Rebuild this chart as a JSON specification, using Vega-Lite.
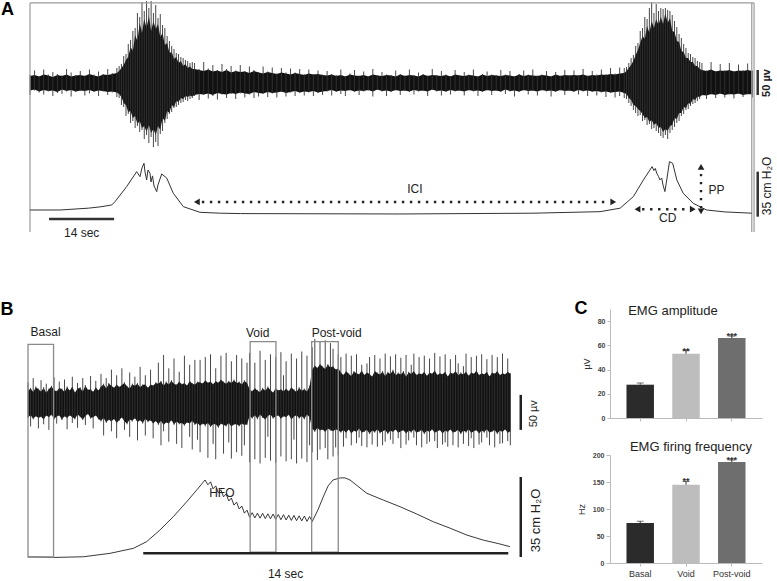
{
"$schema":"https://vega.github.io/schema/vega-lite/v6.json",
"padding":0,
"background":"white",
"bounds":"flush",
"spacing":0,
"config":{"view":{"stroke":null},"font":"Liberation Sans","title":{"font":"Liberation Sans","fontWeight":"normal","color":"#222","fontSize":13},
 "axisY":{"grid":false,"tickSize":3,"labelPadding":2,"labelFontSize":7,"labelFontWeight":"bold","labelColor":"#444","titleFontSize":9,"titleFontWeight":"normal","titleColor":"#333","titlePadding":6,"domainColor":"#bbbbbb","tickColor":"#bbbbbb","labelOverlap":false},
 "axisX":{"tickSize":3,"labelPadding":3,"labelFontSize":9,"labelColor":"#333","domainColor":"#bbbbbb","tickColor":"#bbbbbb","labelAngle":0}},
"datasets":{
"aEmg":[
{"t":0,"b":14,"a":-15,"d":16,"c":-24},{"t":1,"b":16,"a":-13,"d":25,"c":-15},{"t":2,"b":13,"a":-17,"d":14,"c":-19},{"t":3,"b":17,"a":-14,"d":27,"c":-23},{"t":4,"b":15,"a":-16,"d":17,"c":-17},{"t":5,"b":12,"a":-15,"d":22,"c":-26},{"t":6,"b":16,"a":-18,"d":18,"c":-20},{"t":7,"b":14,"a":-13,"d":15,"c":-22},{"t":8,"b":17,"a":-16,"d":28,"c":-17},{"t":9,"b":13,"a":-14,"d":21,"c":-27},
{"t":10,"b":15,"a":-17,"d":16,"c":-18},{"t":11,"b":16,"a":-15,"d":24,"c":-16},{"t":12,"b":14,"a":-16,"d":15,"c":-25},{"t":13,"b":18,"a":-14,"d":27,"c":-21},{"t":14,"b":15,"a":-17,"d":17,"c":-18},{"t":15,"b":13,"a":-15,"d":23,"c":-26},{"t":16,"b":17,"a":-16,"d":18,"c":-17},{"t":17,"b":16,"a":-18,"d":28,"c":-24},{"t":18,"b":18,"a":-17,"d":20,"c":-19},
{"t":19,"b":20,"a":-19,"d":30,"c":-28},{"t":19.5,"b":24,"a":-22,"d":34,"c":-30},{"t":20,"b":30,"a":-28,"d":38,"c":-44},{"t":20.5,"b":36,"a":-40,"d":54,"c":-48},{"t":21,"b":46,"a":-44,"d":58,"c":-66},{"t":21.5,"b":52,"a":-58,"d":78,"c":-62},{"t":22,"b":72,"a":-56,"d":86,"c":-80},{"t":22.5,"b":64,"a":-70,"d":104,"c":-76},{"t":23,"b":96,"a":-66,"d":110,"c":-90},{"t":23.5,"b":84,"a":-82,"d":140,"c":-86},
{"t":24,"b":120,"a":-76,"d":132,"c":-98},{"t":24.5,"b":100,"a":-90,"d":162,"c":-94},{"t":25,"b":128,"a":-86,"d":144,"c":-112},{"t":25.5,"b":110,"a":-98,"d":164,"c":-104},{"t":26,"b":134,"a":-84,"d":150,"c":-120},{"t":26.5,"b":104,"a":-100,"d":164,"c":-108},{"t":27,"b":124,"a":-92,"d":140,"c":-128},{"t":27.5,"b":108,"a":-104,"d":156,"c":-118},{"t":28,"b":118,"a":-86,"d":130,"c":-126},{"t":28.5,"b":92,"a":-94,"d":138,"c":-102},
{"t":29,"b":100,"a":-70,"d":116,"c":-96},{"t":29.5,"b":76,"a":-76,"d":110,"c":-80},{"t":30,"b":80,"a":-56,"d":94,"c":-72},{"t":30.5,"b":60,"a":-60,"d":84,"c":-62},{"t":31,"b":62,"a":-44,"d":74,"c":-58},{"t":31.5,"b":48,"a":-48,"d":68,"c":-50},{"t":32,"b":52,"a":-36,"d":60,"c":-48},{"t":32.5,"b":40,"a":-38,"d":58,"c":-44},{"t":33,"b":44,"a":-30,"d":52,"c":-40},{"t":33.5,"b":34,"a":-32,"d":50,"c":-38},
{"t":34,"b":38,"a":-26,"d":46,"c":-34},{"t":34.5,"b":30,"a":-28,"d":44,"c":-36},{"t":35,"b":33,"a":-25,"d":40,"c":-32},{"t":35.5,"b":28,"a":-27,"d":42,"c":-30},
{"t":36,"b":28,"a":-24,"d":40,"c":-26},{"t":37,"b":26,"a":-22,"d":28,"c":-34},{"t":38,"b":24,"a":-23,"d":42,"c":-24},{"t":39,"b":27,"a":-21,"d":29,"c":-31},{"t":40,"b":23,"a":-24,"d":36,"c":-26},{"t":41,"b":25,"a":-20,"d":26,"c":-33},{"t":42,"b":22,"a":-22,"d":38,"c":-23},{"t":43,"b":26,"a":-23,"d":28,"c":-30},{"t":44,"b":21,"a":-20,"d":34,"c":-22},{"t":45,"b":24,"a":-22,"d":25,"c":-32},
{"t":46,"b":22,"a":-19,"d":36,"c":-21},{"t":47,"b":23,"a":-21,"d":24,"c":-29},{"t":48,"b":20,"a":-22,"d":33,"c":-23},{"t":49,"b":24,"a":-18,"d":26,"c":-30},{"t":50,"b":21,"a":-20,"d":22,"c":-27},{"t":51,"b":19,"a":-21,"d":33,"c":-22},{"t":52,"b":22,"a":-18,"d":23,"c":-28},{"t":53,"b":20,"a":-20,"d":31,"c":-21},{"t":54,"b":18,"a":-19,"d":19,"c":-29},{"t":55,"b":21,"a":-17,"d":30,"c":-18},
{"t":56,"b":19,"a":-20,"d":21,"c":-27},{"t":57,"b":17,"a":-18,"d":29,"c":-19},{"t":58,"b":20,"a":-16,"d":21,"c":-26},{"t":59,"b":18,"a":-19,"d":28,"c":-20},{"t":60,"b":16,"a":-17,"d":18,"c":-25},{"t":61,"b":19,"a":-18,"d":27,"c":-19},{"t":62,"b":17,"a":-16,"d":18,"c":-26},{"t":63,"b":18,"a":-19,"d":25,"c":-20},{"t":64,"b":16,"a":-17,"d":17,"c":-24},
{"t":65,"b":15,"a":-16,"d":24,"c":-17},{"t":66,"b":17,"a":-14,"d":18,"c":-25},{"t":67,"b":14,"a":-17,"d":16,"c":-18},{"t":68,"b":16,"a":-15,"d":27,"c":-22},{"t":69,"b":13,"a":-16,"d":14,"c":-26},{"t":70,"b":17,"a":-14,"d":19,"c":-15},{"t":71,"b":15,"a":-17,"d":26,"c":-18},{"t":72,"b":14,"a":-15,"d":15,"c":-24},{"t":73,"b":16,"a":-16,"d":23,"c":-17},{"t":74,"b":13,"a":-14,"d":14,"c":-15},
{"t":75,"b":17,"a":-17,"d":28,"c":-27},{"t":76,"b":15,"a":-13,"d":16,"c":-14},{"t":77,"b":14,"a":-16,"d":22,"c":-17},{"t":78,"b":16,"a":-15,"d":17,"c":-26},{"t":79,"b":15,"a":-17,"d":16,"c":-18},{"t":80,"b":13,"a":-14,"d":25,"c":-15},{"t":81,"b":17,"a":-16,"d":18,"c":-24},{"t":82,"b":14,"a":-15,"d":15,"c":-16},{"t":83,"b":16,"a":-17,"d":27,"c":-18},{"t":84,"b":15,"a":-14,"d":16,"c":-23},
{"t":85,"b":13,"a":-16,"d":21,"c":-17},{"t":86,"b":17,"a":-15,"d":18,"c":-16},{"t":87,"b":14,"a":-17,"d":15,"c":-26},{"t":88,"b":16,"a":-13,"d":28,"c":-14},{"t":89,"b":15,"a":-16,"d":16,"c":-17},{"t":90,"b":14,"a":-15,"d":24,"c":-25},{"t":91,"b":16,"a":-17,"d":17,"c":-18},{"t":92,"b":13,"a":-14,"d":14,"c":-23},{"t":93,"b":17,"a":-16,"d":26,"c":-17},{"t":94,"b":15,"a":-15,"d":16,"c":-16},
{"t":95,"b":14,"a":-17,"d":22,"c":-25},{"t":96,"b":16,"a":-14,"d":17,"c":-15},{"t":97,"b":15,"a":-16,"d":27,"c":-17},{"t":98,"b":13,"a":-15,"d":14,"c":-26},{"t":99,"b":17,"a":-17,"d":18,"c":-18},{"t":100,"b":14,"a":-14,"d":23,"c":-15},{"t":101,"b":16,"a":-16,"d":17,"c":-24},{"t":102,"b":15,"a":-15,"d":16,"c":-16},{"t":103,"b":14,"a":-17,"d":26,"c":-18},{"t":104,"b":16,"a":-13,"d":17,"c":-22},
{"t":105,"b":15,"a":-16,"d":24,"c":-17},{"t":106,"b":13,"a":-15,"d":14,"c":-27},{"t":107,"b":17,"a":-17,"d":18,"c":-18},{"t":108,"b":14,"a":-14,"d":25,"c":-15},{"t":109,"b":16,"a":-16,"d":17,"c":-23},{"t":110,"b":15,"a":-15,"d":27,"c":-16},{"t":111,"b":14,"a":-17,"d":15,"c":-25},{"t":112,"b":16,"a":-14,"d":17,"c":-15},{"t":113,"b":15,"a":-16,"d":24,"c":-17},{"t":114,"b":13,"a":-15,"d":14,"c":-27},
{"t":115,"b":17,"a":-17,"d":22,"c":-18},{"t":116,"b":14,"a":-14,"d":15,"c":-15},{"t":117,"b":16,"a":-16,"d":26,"c":-24},{"t":118,"b":15,"a":-15,"d":16,"c":-16},{"t":119,"b":16,"a":-17,"d":25,"c":-18},{"t":120,"b":15,"a":-14,"d":16,"c":-23},{"t":121,"b":17,"a":-16,"d":28,"c":-17},{"t":122,"b":14,"a":-15,"d":15,"c":-26},{"t":123,"b":16,"a":-17,"d":24,"c":-18},{"t":124,"b":15,"a":-16,"d":17,"c":-25},
{"t":125,"b":17,"a":-18,"d":27,"c":-19},{"t":126,"b":16,"a":-17,"d":18,"c":-28},{"t":127,"b":18,"a":-19,"d":30,"c":-20},{"t":128,"b":17,"a":-18,"d":19,"c":-29},{"t":129,"b":19,"a":-17,"d":31,"c":-26},
{"t":130,"b":20,"a":-20,"d":30,"c":-30},{"t":130.5,"b":24,"a":-22,"d":32,"c":-32},{"t":131,"b":30,"a":-30,"d":40,"c":-40},{"t":131.5,"b":36,"a":-34,"d":50,"c":-46},{"t":132,"b":44,"a":-44,"d":56,"c":-54},{"t":132.5,"b":56,"a":-46,"d":74,"c":-60},{"t":133,"b":66,"a":-52,"d":80,"c":-66},{"t":133.5,"b":80,"a":-56,"d":104,"c":-64},{"t":134,"b":94,"a":-62,"d":110,"c":-76},{"t":134.5,"b":88,"a":-70,"d":132,"c":-74},
{"t":135,"b":114,"a":-68,"d":128,"c":-84},{"t":135.5,"b":100,"a":-78,"d":150,"c":-82},{"t":136,"b":124,"a":-74,"d":162,"c":-92},{"t":136.5,"b":110,"a":-84,"d":140,"c":-90},{"t":137,"b":128,"a":-80,"d":158,"c":-96},{"t":137.5,"b":116,"a":-90,"d":144,"c":-100},{"t":138,"b":132,"a":-88,"d":150,"c":-106},{"t":138.5,"b":118,"a":-98,"d":148,"c":-110},{"t":139,"b":140,"a":-92,"d":150,"c":-104},{"t":139.5,"b":120,"a":-96,"d":146,"c":-112},
{"t":140,"b":130,"a":-86,"d":144,"c":-100},{"t":140.5,"b":104,"a":-84,"d":136,"c":-94},{"t":141,"b":102,"a":-70,"d":124,"c":-88},{"t":141.5,"b":84,"a":-72,"d":112,"c":-80},{"t":142,"b":82,"a":-60,"d":98,"c":-76},{"t":142.5,"b":64,"a":-60,"d":90,"c":-66},{"t":143,"b":62,"a":-48,"d":78,"c":-62},{"t":143.5,"b":50,"a":-50,"d":70,"c":-54},{"t":144,"b":50,"a":-40,"d":60,"c":-52},{"t":144.5,"b":42,"a":-42,"d":58,"c":-46},
{"t":145,"b":42,"a":-32,"d":52,"c":-42},{"t":145.5,"b":34,"a":-34,"d":50,"c":-40},{"t":146,"b":34,"a":-27,"d":44,"c":-36},{"t":146.5,"b":28,"a":-28,"d":42,"c":-32},
{"t":147,"b":26,"a":-24,"d":40,"c":-25},{"t":148,"b":24,"a":-25,"d":25,"c":-32},{"t":149,"b":27,"a":-22,"d":42,"c":-23},{"t":150,"b":23,"a":-24,"d":24,"c":-30},{"t":151,"b":25,"a":-21,"d":38,"c":-22},{"t":152,"b":24,"a":-24,"d":26,"c":-29},{"t":153,"b":26,"a":-22,"d":40,"c":-23},{"t":154,"b":23,"a":-23,"d":24,"c":-31},{"t":155,"b":25,"a":-21,"d":37,"c":-22},{"t":156,"b":24,"a":-24,"d":26,"c":-28},{"t":157,"b":26,"a":-22,"d":39,"c":-23},{"t":158,"b":24,"a":-23,"d":25,"c":-29}
],
"aP":[
{"t":0,"p":2.3},{"t":6.6,"p":2.3},{"t":12.75,"p":3.7},{"t":15.3,"p":4.7},{"t":17.87,"p":6.2},{"t":18.6,"p":8.8},{"t":21.15,"p":20.5},{"t":23.34,"p":32.1},{"t":24.06,"p":28.2},{"t":24.5,"p":35},{"t":24.94,"p":38.6},{"t":25.16,"p":31.9},{"t":25.53,"p":25.7},{"t":25.81,"p":33.4},{"t":26.25,"p":30.9},{"t":26.47,"p":24.1},{"t":26.8,"p":28.8},{"t":27.13,"p":21},{"t":27.72,"p":16.6},{"t":28,"p":21.8},{"t":28.81,"p":30.3},{"t":29.9,"p":27.2},{"t":31.35,"p":15.3},{"t":33.54,"p":4.9},{"t":37.19,"p":0.5},{"t":41.6,"p":-0.2},{"t":46,"p":-0.5},{"t":80.9,"p":-0.8},{"t":110,"p":-0.2},{"t":124.7,"p":1},{"t":129.1,"p":3.7},{"t":132,"p":12.7},{"t":134.2,"p":25.7},{"t":136.1,"p":36},{"t":136.5,"p":33},{"t":136.8,"p":34.6},{"t":137.1,"p":30.9},{"t":137.5,"p":28.4},{"t":137.8,"p":25.7},{"t":138.2,"p":27.2},{"t":138.5,"p":21.5},{"t":138.9,"p":16.6},{"t":139.3,"p":25.7},{"t":139.9,"p":39.9},{"t":140.6,"p":38.6},{"t":141.5,"p":25.7},{"t":142.9,"p":15.3},{"t":145.1,"p":7.5},{"t":148,"p":2.3},{"t":152,"p":0.8},{"t":157.9,"p":-0.2}
],
"aFrame":[
{"t":0,"t2":158.4,"p":163.3,"p2":163.3},{"t":0,"t2":0,"p":163.3,"p2":-14.8},{"t":157.9,"t2":157.9,"p":163.3,"p2":-14.8},{"t":158.4,"t2":158.4,"p":163.3,"p2":-14.8}
],
"aDot":[
{"t":37.6,"t2":126.5,"p":8.55,"p2":8.55},{"t":133.9,"t2":143.9,"p":2.9,"p2":2.9},{"t":146.8,"t2":146.8,"p":3.6,"p2":33.5}
],
"aHead":[
{"t":36.5,"p":8.55,"dir":"l"},{"t":127.6,"p":8.55,"dir":"r"},{"t":132.9,"p":2.9,"dir":"l"},{"t":145,"p":2.9,"dir":"r"},{"t":146.8,"p":35.8,"dir":"u"},{"t":146.8,"p":1.2,"dir":"d"}
],
"aBarP":[
{"t":4.16,"t2":18.4,"p":-4.7,"p2":-4.7},{"t":159.2,"t2":159.2,"p":-2.9,"p2":32.1}
],
"aBarE":[{"t":159.2,"v":-24,"v2":26}],
"aT":[
{"t":84.2,"p":18.7,"label":"ICI"},{"t":139.5,"p":-3.9,"label":"CD"},{"t":150.2,"p":17.9,"label":"PP"},{"t":11.3,"p":-15.6,"label":"14 sec"}
],
"aT35":[{"t":161.2,"p":21,"label":"35 cm H₂O"}],
"aT50":[{"t":161.2,"v":0,"label":"50 µv"}],
"aTA":[{"t":-4.92,"p":154,"label":"A"}],
"bEmg":[
{"t":0.0,"b":18,"a":-20,"d":30,"c":-21},{"t":0.1,"b":21,"a":-17,"d":22,"c":-33},{"t":0.2,"b":16,"a":-22,"d":36,"c":-23},{"t":0.3,"b":23,"a":-18,"d":24,"c":-19},{"t":0.4,"b":20,"a":-21,"d":21,"c":-36},{"t":0.5,"b":17,"a":-19,"d":33,"c":-20},{"t":0.6,"b":22,"a":-23,"d":23,"c":-30},{"t":0.7,"b":15,"a":-17,"d":28,"c":-18},{"t":0.8,"b":20,"a":-20,"d":21,"c":-38},{"t":0.9,"b":24,"a":-16,"d":25,"c":-17},
{"t":1.0,"b":19,"a":-22,"d":37,"c":-23},{"t":1.1,"b":17,"a":-19,"d":18,"c":-29},{"t":1.2,"b":22,"a":-17,"d":31,"c":-18},{"t":1.3,"b":20,"a":-23,"d":21,"c":-24},{"t":1.4,"b":16,"a":-18,"d":34,"c":-19},{"t":1.5,"b":23,"a":-21,"d":24,"c":-37},{"t":1.6,"b":18,"a":-17,"d":19,"c":-18},{"t":1.7,"b":24,"a":-20,"d":38,"c":-28},{"t":1.8,"b":15,"a":-22,"d":16,"c":-23},{"t":1.9,"b":21,"a":-16,"d":29,"c":-35},
{"t":2.0,"b":22,"a":-19,"d":23,"c":-20},{"t":2.1,"b":17,"a":-23,"d":36,"c":-24},{"t":2.2,"b":25,"a":-18,"d":26,"c":-31},{"t":2.3,"b":19,"a":-15,"d":20,"c":-16},{"t":2.4,"b":20,"a":-21,"d":39,"c":-22},{"t":2.5,"b":16,"a":-20,"d":17,"c":-36},{"t":2.6,"b":23,"a":-17,"d":32,"c":-18},{"t":2.7,"b":18,"a":-22,"d":19,"c":-23},{"t":2.8,"b":24,"a":-25,"d":42,"c":-26},{"t":2.9,"b":27,"a":-21,"d":28,"c":-46},
{"t":3.0,"b":21,"a":-27,"d":36,"c":-28},{"t":3.1,"b":28,"a":-23,"d":29,"c":-24},{"t":3.2,"b":25,"a":-26,"d":48,"c":-40},{"t":3.3,"b":22,"a":-22,"d":23,"c":-23},{"t":3.4,"b":27,"a":-28,"d":40,"c":-50},{"t":3.5,"b":23,"a":-24,"d":24,"c":-25},{"t":3.6,"b":26,"a":-20,"d":50,"c":-21},{"t":3.7,"b":29,"a":-26,"d":30,"c":-38},{"t":3.8,"b":24,"a":-29,"d":25,"c":-30},{"t":3.9,"b":21,"a":-23,"d":44,"c":-48},
{"t":4.0,"b":27,"a":-25,"d":28,"c":-26},{"t":4.1,"b":25,"a":-21,"d":38,"c":-22},{"t":4.2,"b":28,"a":-27,"d":29,"c":-53},{"t":4.3,"b":23,"a":-24,"d":52,"c":-25},{"t":4.4,"b":26,"a":-28,"d":27,"c":-29},{"t":4.5,"b":27,"a":-22,"d":40,"c":-46},{"t":4.6,"b":22,"a":-26,"d":23,"c":-27},{"t":4.7,"b":27,"a":-24,"d":48,"c":-25},{"t":4.8,"b":25,"a":-29,"d":26,"c":-50},{"t":4.9,"b":29,"a":-25,"d":30,"c":-26},
{"t":5.0,"b":28,"a":-30,"d":58,"c":-31},{"t":5.1,"b":31,"a":-25,"d":32,"c":-60},{"t":5.2,"b":25,"a":-31,"d":69,"c":-40},{"t":5.3,"b":30,"a":-27,"d":31,"c":-28},{"t":5.4,"b":27,"a":-29,"d":50,"c":-55},{"t":5.5,"b":32,"a":-24,"d":33,"c":-25},{"t":5.6,"b":28,"a":-30,"d":64,"c":-31},{"t":5.7,"b":26,"a":-26,"d":27,"c":-58},{"t":5.8,"b":31,"a":-29,"d":45,"c":-30},{"t":5.9,"b":27,"a":-28,"d":28,"c":-64},
{"t":6.0,"b":29,"a":-31,"d":68,"c":-32},{"t":6.1,"b":25,"a":-27,"d":26,"c":-28},{"t":6.2,"b":32,"a":-29,"d":55,"c":-48},{"t":6.3,"b":28,"a":-25,"d":29,"c":-66},{"t":6.4,"b":27,"a":-30,"d":62,"c":-31},{"t":6.5,"b":30,"a":-28,"d":31,"c":-52},{"t":6.6,"b":30,"a":-32,"d":62,"c":-70},{"t":6.7,"b":28,"a":-29,"d":29,"c":-30},{"t":6.8,"b":33,"a":-31,"d":66,"c":-33},{"t":6.9,"b":29,"a":-28,"d":30,"c":-78},
{"t":7.0,"b":31,"a":-33,"d":70,"c":-34},{"t":7.1,"b":27,"a":-30,"d":28,"c":-58},{"t":7.2,"b":32,"a":-30,"d":50,"c":-80},{"t":7.3,"b":29,"a":-34,"d":30,"c":-35},{"t":7.4,"b":34,"a":-29,"d":68,"c":-30},{"t":7.5,"b":30,"a":-31,"d":31,"c":-72},{"t":7.6,"b":28,"a":-32,"d":72,"c":-33},{"t":7.7,"b":31,"a":-28,"d":32,"c":-56},{"t":7.8,"b":29,"a":-33,"d":60,"c":-79},{"t":7.9,"b":33,"a":-30,"d":34,"c":-31},
{"t":8.0,"b":29,"a":-30,"d":69,"c":-70},{"t":8.1,"b":30,"a":-32,"d":31,"c":-33},{"t":8.2,"b":27,"a":-29,"d":64,"c":-75},{"t":8.3,"b":32,"a":-31,"d":33,"c":-60},{"t":8.4,"b":29,"a":-30,"d":58,"c":-31},{"t":8.5,"b":20,"a":-18,"d":72,"c":-84},{"t":8.6,"b":17,"a":-21,"d":18,"c":-22},{"t":8.7,"b":22,"a":-17,"d":58,"c":-80},{"t":8.8,"b":18,"a":-22,"d":19,"c":-23},{"t":8.9,"b":16,"a":-16,"d":75,"c":-86},
{"t":9.0,"b":21,"a":-20,"d":22,"c":-21},{"t":9.1,"b":18,"a":-23,"d":62,"c":-78},{"t":9.2,"b":23,"a":-18,"d":24,"c":-48},{"t":9.3,"b":19,"a":-16,"d":70,"c":-82},{"t":9.4,"b":15,"a":-21,"d":16,"c":-22},{"t":9.5,"b":22,"a":-19,"d":66,"c":-85},{"t":9.6,"b":18,"a":-17,"d":19,"c":-18},{"t":9.7,"b":20,"a":-22,"d":73,"c":-76},{"t":9.8,"b":17,"a":-18,"d":40,"c":-19},{"t":9.9,"b":21,"a":-20,"d":60,"c":-83},
{"t":10.0,"b":17,"a":-16,"d":18,"c":-17},{"t":10.1,"b":23,"a":-23,"d":71,"c":-80},{"t":10.2,"b":19,"a":-19,"d":20,"c":-52},{"t":10.3,"b":16,"a":-17,"d":64,"c":-86},{"t":10.4,"b":22,"a":-21,"d":23,"c":-22},{"t":10.5,"b":18,"a":-18,"d":74,"c":-79},{"t":10.6,"b":20,"a":-22,"d":21,"c":-23},{"t":10.7,"b":17,"a":-16,"d":68,"c":-84},{"t":10.8,"b":24,"a":-20,"d":25,"c":-60},{"t":10.9,"b":48,"a":-36,"d":80,"c":-70},
{"t":11.0,"b":54,"a":-40,"d":92,"c":-41},{"t":11.1,"b":50,"a":-35,"d":51,"c":-81},{"t":11.2,"b":56,"a":-39,"d":88,"c":-66},{"t":11.3,"b":52,"a":-37,"d":53,"c":-38},{"t":11.4,"b":49,"a":-41,"d":90,"c":-64},{"t":11.5,"b":55,"a":-36,"d":56,"c":-80},{"t":11.6,"b":51,"a":-38,"d":86,"c":-39},{"t":11.7,"b":53,"a":-40,"d":78,"c":-76},{"t":11.8,"b":48,"a":-37,"d":49,"c":-63},{"t":11.9,"b":50,"a":-39,"d":70,"c":-74},
{"t":12.0,"b":44,"a":-41,"d":66,"c":-42},{"t":12.1,"b":40,"a":-38,"d":41,"c":-62},{"t":12.2,"b":46,"a":-42,"d":71,"c":-50},{"t":12.3,"b":42,"a":-37,"d":43,"c":-38},{"t":12.4,"b":39,"a":-43,"d":68,"c":-60},{"t":12.5,"b":45,"a":-39,"d":46,"c":-40},{"t":12.6,"b":43,"a":-41,"d":70,"c":-57},{"t":12.7,"b":41,"a":-36,"d":42,"c":-49},{"t":12.8,"b":47,"a":-42,"d":55,"c":-61},{"t":12.9,"b":40,"a":-40,"d":41,"c":-41},
{"t":13.0,"b":44,"a":-38,"d":57,"c":-63},{"t":13.1,"b":42,"a":-43,"d":66,"c":-44},{"t":13.2,"b":38,"a":-39,"d":39,"c":-59},{"t":13.3,"b":46,"a":-41,"d":69,"c":-42},{"t":13.4,"b":43,"a":-37,"d":44,"c":-62},{"t":13.5,"b":41,"a":-42,"d":64,"c":-43},{"t":13.6,"b":45,"a":-40,"d":46,"c":-60},{"t":13.7,"b":39,"a":-38,"d":71,"c":-55},{"t":13.8,"b":44,"a":-43,"d":45,"c":-44},{"t":13.9,"b":42,"a":-39,"d":67,"c":-52},
{"t":14.0,"b":47,"a":-41,"d":48,"c":-58},{"t":14.1,"b":40,"a":-37,"d":70,"c":-38},{"t":14.2,"b":43,"a":-42,"d":44,"c":-50},{"t":14.3,"b":41,"a":-40,"d":65,"c":-64},{"t":14.4,"b":45,"a":-38,"d":46,"c":-39},{"t":14.5,"b":38,"a":-43,"d":69,"c":-59},{"t":14.6,"b":44,"a":-39,"d":45,"c":-53},{"t":14.7,"b":42,"a":-41,"d":55,"c":-42},{"t":14.8,"b":46,"a":-37,"d":71,"c":-49},{"t":14.9,"b":40,"a":-42,"d":41,"c":-60},
{"t":15.0,"b":43,"a":-40,"d":66,"c":-41},{"t":15.1,"b":41,"a":-38,"d":42,"c":-63},{"t":15.2,"b":45,"a":-43,"d":68,"c":-44},{"t":15.3,"b":39,"a":-39,"d":40,"c":-58},{"t":15.4,"b":44,"a":-41,"d":64,"c":-55},{"t":15.5,"b":42,"a":-37,"d":43,"c":-38},{"t":15.6,"b":47,"a":-42,"d":72,"c":-54},{"t":15.7,"b":40,"a":-40,"d":41,"c":-64},{"t":15.8,"b":43,"a":-38,"d":67,"c":-39},{"t":15.9,"b":41,"a":-43,"d":42,"c":-59},
{"t":16.0,"b":45,"a":-39,"d":70,"c":-56},{"t":16.1,"b":38,"a":-41,"d":39,"c":-62},{"t":16.2,"b":44,"a":-37,"d":63,"c":-38},{"t":16.3,"b":42,"a":-42,"d":43,"c":-60},{"t":16.4,"b":46,"a":-40,"d":69,"c":-41},{"t":16.5,"b":40,"a":-38,"d":57,"c":-63},{"t":16.6,"b":43,"a":-43,"d":44,"c":-44},{"t":16.7,"b":41,"a":-39,"d":53,"c":-58},{"t":16.8,"b":45,"a":-41,"d":71,"c":-42},{"t":16.9,"b":39,"a":-37,"d":40,"c":-61},
{"t":17.0,"b":44,"a":-42,"d":66,"c":-50},{"t":17.1,"b":42,"a":-40,"d":43,"c":-64},{"t":17.2,"b":47,"a":-38,"d":68,"c":-39},{"t":17.3,"b":40,"a":-43,"d":41,"c":-59},{"t":17.4,"b":43,"a":-39,"d":70,"c":-56},{"t":17.5,"b":41,"a":-41,"d":42,"c":-42},{"t":17.6,"b":45,"a":-37,"d":63,"c":-49},{"t":17.7,"b":38,"a":-42,"d":39,"c":-60},{"t":17.8,"b":44,"a":-40,"d":69,"c":-41},{"t":17.9,"b":42,"a":-38,"d":43,"c":-63},
{"t":18.0,"b":46,"a":-43,"d":66,"c":-44},{"t":18.1,"b":40,"a":-39,"d":41,"c":-58},{"t":18.2,"b":43,"a":-41,"d":71,"c":-57},{"t":18.3,"b":41,"a":-37,"d":42,"c":-38},{"t":18.4,"b":45,"a":-42,"d":64,"c":-54},{"t":18.5,"b":42,"a":-40,"d":43,"c":-60}
],
"bP":[
{"t":0,"p":0.1},{"t":0.97,"p":-0.2},{"t":2.12,"p":0.1},{"t":3.15,"p":1.6},{"t":4.04,"p":3.8},{"t":4.55,"p":6.7},{"t":5.06,"p":11.8},{"t":5.57,"p":17.6},{"t":6.09,"p":24.2},{"t":6.47,"p":29.3},{"t":6.79,"p":33.7},
{"t":6.9,"p":31.6},{"t":7.0,"p":32.9},{"t":7.1,"p":29.8},{"t":7.2,"p":31.1},{"t":7.3,"p":28},{"t":7.4,"p":29.4},{"t":7.5,"p":26.3},{"t":7.6,"p":27.6},{"t":7.7,"p":24.5},{"t":7.8,"p":25.8},{"t":7.9,"p":22.7},{"t":8.0,"p":24},{"t":8.1,"p":21},{"t":8.2,"p":22.3},{"t":8.3,"p":19.2},{"t":8.4,"p":20.5},{"t":8.5,"p":17.4},{"t":8.6,"p":19.4},{"t":8.7,"p":17.1},{"t":8.8,"p":19.2},{"t":8.9,"p":17},{"t":9.0,"p":19.1},{"t":9.1,"p":16.8},{"t":9.2,"p":18.9},{"t":9.3,"p":16.7},{"t":9.4,"p":18.8},{"t":9.5,"p":16.5},{"t":9.6,"p":18.6},{"t":9.7,"p":16.3},{"t":9.8,"p":18.5},{"t":9.9,"p":16.2},{"t":10.0,"p":18.3},{"t":10.1,"p":16},{"t":10.2,"p":18.2},{"t":10.3,"p":15.9},{"t":10.4,"p":18},{"t":10.5,"p":15.8},{"t":10.6,"p":17.9},{"t":10.7,"p":15.6},{"t":10.8,"p":17.7},{"t":10.9,"p":15.5},
{"t":11.12,"p":20.6},{"t":11.32,"p":26.2},{"t":11.51,"p":31.1},{"t":11.7,"p":33.7},{"t":11.97,"p":34.6},{"t":12.16,"p":34.6},{"t":12.35,"p":33.7},{"t":12.99,"p":27.9},{"t":13.63,"p":24.9},{"t":14.27,"p":22},{"t":14.91,"p":18.8},{"t":15.55,"p":15.4},{"t":16.19,"p":12.6},{"t":16.83,"p":9.6},{"t":17.46,"p":7.4},{"t":18.1,"p":5.7},{"t":18.49,"p":4.5}
],
"bBox":[
{"t":0,"t2":0.98,"p":0,"p2":93},{"t":8.52,"t2":9.51,"p":2.1,"p2":94.2},{"t":10.88,"t2":11.9,"p":2.1,"p2":94.2}
],
"bBarP":[
{"t":4.42,"t2":18.42,"p":1.6,"p2":1.6},{"t":18.9,"t2":18.9,"p":0,"p2":35}
],
"bBarE":[{"t":18.9,"v":-38,"v2":12}],
"bTL":[
{"t":0.1,"p":98.3,"label":"Basal"},{"t":8.36,"p":97.9,"label":"Void"},{"t":10.88,"p":97.9,"label":"Post-void"},{"t":6.95,"p":28.1,"label":"HFO"}
],
"bTC":[{"t":9.88,"p":-9.2,"label":"14 sec"}],
"bT35":[{"t":19.49,"p":16,"label":"35 cm H₂O"}],
"bT50":[{"t":19.41,"v":-15,"label":"50 µv"}],
"bTB":[{"t":-0.81,"p":108,"label":"B"},{"t":21.21,"p":108.7,"label":"C"}],
"c1":[{"cat":"Basal","v":27.5,"u":28.8,"s":""},{"cat":"Void","v":53,"u":55.7,"s":"**"},{"cat":"Post-void","v":66,"u":67.7,"s":"***"}],
"c2":[{"cat":"Basal","v":74,"u":77.5,"s":""},{"cat":"Void","v":145,"u":151,"s":"**"},{"cat":"Post-void","v":187,"u":191,"s":"***"}]
},
"vconcat":[
{
"width":777,"height":309,
"resolve":{"scale":{"y":"independent"}},
"layer":[
{"data":{"name":"aEmg"},"mark":{"type":"area","color":"#111","interpolate":"linear"},
 "encoding":{"x":{"field":"t","type":"quantitative","scale":{"domain":[-6.563,163.42],"nice":false,"zero":false},"axis":null},
 "y":{"field":"a","type":"quantitative","scale":{"domain":[-452,166],"nice":false,"zero":false},"axis":null},"y2":{"field":"b"}}},
{"data":{"name":"aEmg"},"mark":{"type":"rule","color":"#333","strokeWidth":0.9},
 "encoding":{"x":{"field":"t","type":"quantitative","scale":{"domain":[-6.563,163.42],"nice":false,"zero":false},"axis":null},
 "y":{"field":"c","type":"quantitative","scale":{"domain":[-452,166],"nice":false,"zero":false},"axis":null},"y2":{"field":"d"}}},
{"data":{"name":"aFrame"},"mark":{"type":"rule","color":"#9a9a9a","strokeWidth":1.2},
 "encoding":{"x":{"field":"t","type":"quantitative","scale":{"domain":[-6.563,163.42],"nice":false,"zero":false},"axis":null},"x2":{"field":"t2"},
 "y":{"field":"p","type":"quantitative","scale":{"domain":[-74.7,165.6],"nice":false,"zero":false},"axis":null},"y2":{"field":"p2"}}},
{"data":{"name":"aP"},"mark":{"type":"line","color":"#333","strokeWidth":1},
 "encoding":{"x":{"field":"t","type":"quantitative","scale":{"domain":[-6.563,163.42],"nice":false,"zero":false},"axis":null},
 "y":{"field":"p","type":"quantitative","scale":{"domain":[-74.7,165.6],"nice":false,"zero":false},"axis":null}}},
{"data":{"name":"aDot"},"mark":{"type":"rule","color":"#222","strokeWidth":2.4,"strokeDash":[2.4,5.6]},
 "encoding":{"x":{"field":"t","type":"quantitative","scale":{"domain":[-6.563,163.42],"nice":false,"zero":false},"axis":null},"x2":{"field":"t2"},
 "y":{"field":"p","type":"quantitative","scale":{"domain":[-74.7,165.6],"nice":false,"zero":false},"axis":null},"y2":{"field":"p2"}}},
{"data":{"name":"aHead"},"mark":{"type":"point","filled":true,"color":"#222","opacity":1,"size":45},
 "encoding":{"x":{"field":"t","type":"quantitative","scale":{"domain":[-6.563,163.42],"nice":false,"zero":false},"axis":null},
 "y":{"field":"p","type":"quantitative","scale":{"domain":[-74.7,165.6],"nice":false,"zero":false},"axis":null},
 "shape":{"field":"dir","type":"nominal","scale":{"domain":["l","r","u","d"],"range":["triangle-left","triangle-right","triangle-up","triangle-down"]},"legend":null}}},
{"data":{"name":"aBarP"},"mark":{"type":"rule","color":"#333","strokeWidth":2.5},
 "encoding":{"x":{"field":"t","type":"quantitative","scale":{"domain":[-6.563,163.42],"nice":false,"zero":false},"axis":null},"x2":{"field":"t2"},
 "y":{"field":"p","type":"quantitative","scale":{"domain":[-74.7,165.6],"nice":false,"zero":false},"axis":null},"y2":{"field":"p2"}}},
{"data":{"name":"aBarE"},"mark":{"type":"rule","color":"#333","strokeWidth":2.5},
 "encoding":{"x":{"field":"t","type":"quantitative","scale":{"domain":[-6.563,163.42],"nice":false,"zero":false},"axis":null},
 "y":{"field":"v","type":"quantitative","scale":{"domain":[-452,166],"nice":false,"zero":false},"axis":null},"y2":{"field":"v2"}}},
{"data":{"name":"aT"},"mark":{"type":"text","fontSize":12,"color":"#222","align":"center","baseline":"middle"},
 "encoding":{"x":{"field":"t","type":"quantitative","scale":{"domain":[-6.563,163.42],"nice":false,"zero":false},"axis":null},
 "y":{"field":"p","type":"quantitative","scale":{"domain":[-74.7,165.6],"nice":false,"zero":false},"axis":null},"text":{"field":"label"}}},
{"data":{"name":"aT35"},"mark":{"type":"text","fontSize":12,"color":"#222","align":"center","baseline":"middle","angle":270},
 "encoding":{"x":{"field":"t","type":"quantitative","scale":{"domain":[-6.563,163.42],"nice":false,"zero":false},"axis":null},
 "y":{"field":"p","type":"quantitative","scale":{"domain":[-74.7,165.6],"nice":false,"zero":false},"axis":null},"text":{"field":"label"}}},
{"data":{"name":"aT50"},"mark":{"type":"text","fontSize":11,"fontWeight":"bold","color":"#222","align":"center","baseline":"middle","angle":270},
 "encoding":{"x":{"field":"t","type":"quantitative","scale":{"domain":[-6.563,163.42],"nice":false,"zero":false},"axis":null},
 "y":{"field":"v","type":"quantitative","scale":{"domain":[-452,166],"nice":false,"zero":false},"axis":null},"text":{"field":"label"}}},
{"data":{"name":"aTA"},"mark":{"type":"text","fontSize":18,"fontWeight":"bold","color":"#000","align":"center","baseline":"alphabetic"},
 "encoding":{"x":{"field":"t","type":"quantitative","scale":{"domain":[-6.563,163.42],"nice":false,"zero":false},"axis":null},
 "y":{"field":"p","type":"quantitative","scale":{"domain":[-74.7,165.6],"nice":false,"zero":false},"axis":null},"text":{"field":"label"}}}
]
},
{
"bounds":"flush",
"spacing":35,
"hconcat":[
{
"width":575,"height":272,
"resolve":{"scale":{"y":"independent"}},
"layer":[
{"data":{"name":"bEmg"},"mark":{"type":"area","color":"#111","interpolate":"linear"},
 "encoding":{"x":{"field":"t","type":"quantitative","scale":{"domain":[-1.074,20.98],"nice":false,"zero":false},"axis":null},
 "y":{"field":"a","type":"quantitative","scale":{"domain":[-253.9,134.7],"nice":false,"zero":false},"axis":null},"y2":{"field":"b"}}},
{"data":{"name":"bEmg"},"mark":{"type":"rule","color":"#333","strokeWidth":0.9},
 "encoding":{"x":{"field":"t","type":"quantitative","scale":{"domain":[-1.074,20.98],"nice":false,"zero":false},"axis":null},
 "y":{"field":"c","type":"quantitative","scale":{"domain":[-253.9,134.7],"nice":false,"zero":false},"axis":null},"y2":{"field":"d"}}},
{"data":{"name":"bP"},"mark":{"type":"line","color":"#222","strokeWidth":0.9},
 "encoding":{"x":{"field":"t","type":"quantitative","scale":{"domain":[-1.074,20.98],"nice":false,"zero":false},"axis":null},
 "y":{"field":"p","type":"quantitative","scale":{"domain":[-10.5,108.5],"nice":false,"zero":false},"axis":null}}},
{"data":{"name":"bBox"},"mark":{"type":"rect","filled":false,"color":"#8a8a8a","strokeWidth":1.3},
 "encoding":{"x":{"field":"t","type":"quantitative","scale":{"domain":[-1.074,20.98],"nice":false,"zero":false},"axis":null},"x2":{"field":"t2"},
 "y":{"field":"p","type":"quantitative","scale":{"domain":[-10.5,108.5],"nice":false,"zero":false},"axis":null},"y2":{"field":"p2"}}},
{"data":{"name":"bBarP"},"mark":{"type":"rule","color":"#222","strokeWidth":2.5},
 "encoding":{"x":{"field":"t","type":"quantitative","scale":{"domain":[-1.074,20.98],"nice":false,"zero":false},"axis":null},"x2":{"field":"t2"},
 "y":{"field":"p","type":"quantitative","scale":{"domain":[-10.5,108.5],"nice":false,"zero":false},"axis":null},"y2":{"field":"p2"}}},
{"data":{"name":"bBarE"},"mark":{"type":"rule","color":"#222","strokeWidth":2.5},
 "encoding":{"x":{"field":"t","type":"quantitative","scale":{"domain":[-1.074,20.98],"nice":false,"zero":false},"axis":null},
 "y":{"field":"v","type":"quantitative","scale":{"domain":[-253.9,134.7],"nice":false,"zero":false},"axis":null},"y2":{"field":"v2"}}},
{"data":{"name":"bTL"},"mark":{"type":"text","fontSize":12,"color":"#222","align":"left","baseline":"middle"},
 "encoding":{"x":{"field":"t","type":"quantitative","scale":{"domain":[-1.074,20.98],"nice":false,"zero":false},"axis":null},
 "y":{"field":"p","type":"quantitative","scale":{"domain":[-10.5,108.5],"nice":false,"zero":false},"axis":null},"text":{"field":"label"}}},
{"data":{"name":"bTC"},"mark":{"type":"text","fontSize":12,"color":"#222","align":"center","baseline":"alphabetic"},
 "encoding":{"x":{"field":"t","type":"quantitative","scale":{"domain":[-1.074,20.98],"nice":false,"zero":false},"axis":null},
 "y":{"field":"p","type":"quantitative","scale":{"domain":[-10.5,108.5],"nice":false,"zero":false},"axis":null},"text":{"field":"label"}}},
{"data":{"name":"bT35"},"mark":{"type":"text","fontSize":13,"color":"#222","align":"center","baseline":"middle","angle":270},
 "encoding":{"x":{"field":"t","type":"quantitative","scale":{"domain":[-1.074,20.98],"nice":false,"zero":false},"axis":null},
 "y":{"field":"p","type":"quantitative","scale":{"domain":[-10.5,108.5],"nice":false,"zero":false},"axis":null},"text":{"field":"label"}}},
{"data":{"name":"bT50"},"mark":{"type":"text","fontSize":11,"color":"#222","align":"center","baseline":"middle","angle":270},
 "encoding":{"x":{"field":"t","type":"quantitative","scale":{"domain":[-1.074,20.98],"nice":false,"zero":false},"axis":null},
 "y":{"field":"v","type":"quantitative","scale":{"domain":[-253.9,134.7],"nice":false,"zero":false},"axis":null},"text":{"field":"label"}}},
{"data":{"name":"bTB"},"mark":{"type":"text","fontSize":18,"fontWeight":"bold","color":"#000","align":"center","baseline":"middle"},
 "encoding":{"x":{"field":"t","type":"quantitative","scale":{"domain":[-1.074,20.98],"nice":false,"zero":false},"axis":null},
 "y":{"field":"p","type":"quantitative","scale":{"domain":[-10.5,108.5],"nice":false,"zero":false},"axis":null},"text":{"field":"label"}}}
]
},
{
"bounds":"flush",
"spacing":37,
"vconcat":[
{
"width":152,"height":109,
"data":{"name":"c1"},
"title":{"text":"EMG amplitude","anchor":"middle","dx":-13,"offset":-6,"dy":13,"baseline":"alphabetic","fontSize":13},
"encoding":{"x":{"field":"cat","type":"nominal","sort":["Basal","Void","Post-void"],"scale":{"paddingInner":0.4,"paddingOuter":0.36},
  "axis":{"labels":false,"title":null}}},
"layer":[
{"mark":{"type":"bar"},"encoding":{
 "y":{"field":"v","type":"quantitative","title":"µV","scale":{"domain":[0,90],"nice":false},"axis":{"values":[0,20,40,60,80]}},
 "color":{"field":"cat","type":"nominal","scale":{"domain":["Basal","Void","Post-void"],"range":["#2b2b2b","#bdbdbd","#6e6e6e"]},"legend":null}}},
{"mark":{"type":"rule","color":"#333","strokeWidth":1},"encoding":{"y":{"field":"v","type":"quantitative","title":"µV","scale":{"domain":[0,90],"nice":false},"axis":{"values":[0,20,40,60,80]}},"y2":{"field":"u"}}},
{"mark":{"type":"tick","color":"#333","thickness":1,"size":7},"encoding":{"y":{"field":"u","type":"quantitative","title":"µV","scale":{"domain":[0,90],"nice":false},"axis":{"values":[0,20,40,60,80]}}}},
{"mark":{"type":"text","fontSize":9,"fontWeight":"bold","color":"#333","baseline":"alphabetic","dy":3},"encoding":{"y":{"field":"u","type":"quantitative","title":"µV","scale":{"domain":[0,90],"nice":false},"axis":{"values":[0,20,40,60,80]}},"text":{"field":"s"}}}
]
},
{
"width":152,"height":108,
"data":{"name":"c2"},
"title":{"text":"EMG firing frequency","anchor":"middle","dx":5,"offset":3,"dy":16,"baseline":"alphabetic","fontSize":13},
"encoding":{"x":{"field":"cat","type":"nominal","sort":["Basal","Void","Post-void"],"scale":{"paddingInner":0.4,"paddingOuter":0.36},
  "axis":{"title":null}}},
"layer":[
{"mark":{"type":"bar"},"encoding":{
 "y":{"field":"v","type":"quantitative","title":"Hz","scale":{"domain":[0,200],"nice":false},"axis":{"values":[0,50,100,150,200],"tickSize":4}},
 "color":{"field":"cat","type":"nominal","scale":{"domain":["Basal","Void","Post-void"],"range":["#2b2b2b","#bdbdbd","#6e6e6e"]},"legend":null}}},
{"mark":{"type":"rule","color":"#333","strokeWidth":1},"encoding":{"y":{"field":"v","type":"quantitative","title":"Hz","scale":{"domain":[0,200],"nice":false},"axis":{"values":[0,50,100,150,200],"tickSize":4}},"y2":{"field":"u"}}},
{"mark":{"type":"tick","color":"#333","thickness":1,"size":7},"encoding":{"y":{"field":"u","type":"quantitative","title":"Hz","scale":{"domain":[0,200],"nice":false},"axis":{"values":[0,50,100,150,200],"tickSize":4}}}},
{"mark":{"type":"text","fontSize":9,"fontWeight":"bold","color":"#333","baseline":"alphabetic","dy":3},"encoding":{"y":{"field":"u","type":"quantitative","title":"Hz","scale":{"domain":[0,200],"nice":false},"axis":{"values":[0,50,100,150,200],"tickSize":4}},"text":{"field":"s"}}}
]
}
]
}
]
}
]
}
